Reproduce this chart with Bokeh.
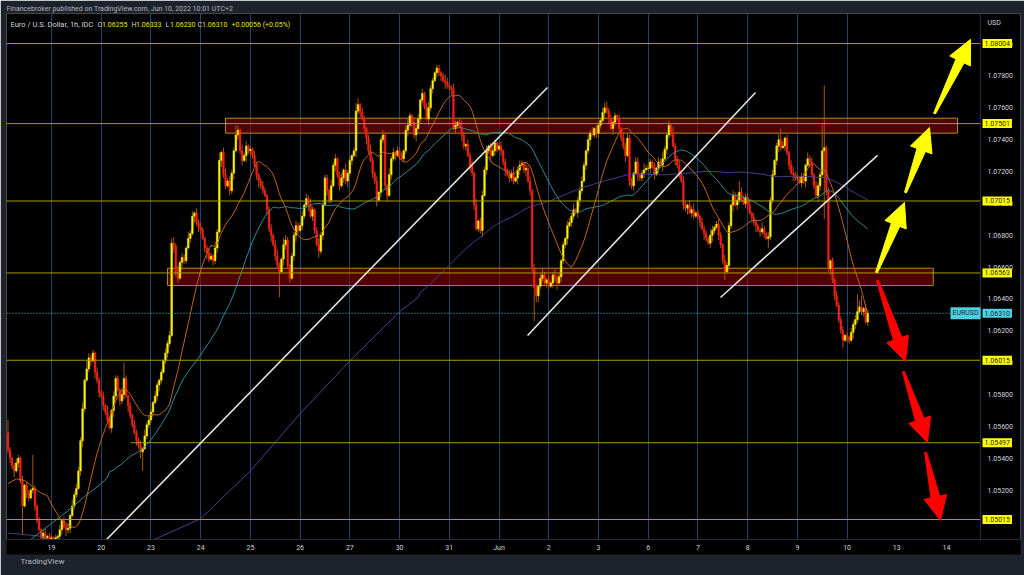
import math
import numpy as np
import pandas as pd
from bokeh.plotting import figure
from bokeh.models import (Range1d, LinearAxis, FixedTicker, Grid, Label, Span, Title, ColumnDataSource)
from bokeh.core.properties import value
from bokeh.embed import file_html
from bokeh.resources import INLINE

# ---------------- data (EUR/USD 1h, IDC) ----------------
FIRST_HOUR = -21          # hours relative to May 19 00:00 (trading hours only)
FIRST_OPEN = 1.0556

close_may18 = [1.0545,1.0540,1.0535,1.0532,1.0537,1.0540,1.0526,1.0510,1.0523,1.0518,1.0515,
               1.0520,1.0521,1.0510,1.0501,1.0495,1.0490,1.0493,1.0488,1.0491,1.0489]
close_may19 = [1.0490,1.0488,1.0490,1.0491,1.0495,1.0501,1.0497,1.0495,1.0496,1.0504,1.0510,1.0517,
               1.0521,1.0532,1.0551,1.0571,1.0589,1.0596,1.0603,1.0601,1.0606,1.0594,1.0589,1.0581]
close_may20 = [1.0579,1.0573,1.0569,1.0564,1.0559,1.0570,1.0579,1.0590,1.0583,1.0576,1.0580,1.0590,
               1.0579,1.0573,1.0567,1.0561,1.0556,1.0551,1.0548,1.0544,1.0546,1.0554,1.0561,1.0564]
close_may23 = [1.0569,1.0575,1.0579,1.0586,1.0589,1.0594,1.0601,1.0606,1.0612,1.0617,1.0675,1.0673,
               1.0656,1.0653,1.0663,1.0666,1.0664,1.0672,1.0678,1.0681,1.0692,1.0694,1.0688,1.0685]
close_may24 = [1.0683,1.0678,1.0672,1.0669,1.0665,1.0667,1.0664,1.0672,1.0682,1.0727,1.0732,1.0718,
               1.0711,1.0714,1.0708,1.0719,1.0733,1.0743,1.0746,1.0733,1.0727,1.0730,1.0736,1.0733]
close_may25 = [1.0734,1.0730,1.0724,1.0718,1.0714,1.0711,1.0708,1.0705,1.0696,1.0684,1.0680,1.0674,
               1.0667,1.0661,1.0657,1.0665,1.0674,1.0677,1.0661,1.0653,1.0667,1.0680,1.0686,1.0683]
close_may26 = [1.0686,1.0692,1.0699,1.0703,1.0699,1.0692,1.0696,1.0683,1.0674,1.0670,1.0680,1.0699,
               1.0716,1.0708,1.0702,1.0711,1.0724,1.0728,1.0718,1.0711,1.0716,1.0721,1.0714,1.0719]
close_may27 = [1.0727,1.0730,1.0733,1.0758,1.0762,1.0757,1.0753,1.0747,1.0741,1.0733,1.0727,1.0719,
               1.0714,1.0702,1.0707,1.0740,1.0743,1.0711,1.0705,1.0718,1.0728,1.0732,1.0730,1.0733]
close_may30 = [1.0730,1.0728,1.0733,1.0746,1.0749,1.0755,1.0751,1.0743,1.0747,1.0753,1.0765,1.0769,
               1.0761,1.0753,1.0760,1.0772,1.0777,1.0782,1.0785,1.0782,1.0780,1.0777,1.0776,1.0774]
close_may31 = [1.0773,1.0772,1.0747,1.0749,1.0751,1.0748,1.0743,1.0736,1.0737,1.0730,1.0724,1.0719,
               1.0699,1.0684,1.0689,1.0683,1.0705,1.0721,1.0733,1.0736,1.0730,1.0733,1.0738,1.0734]
close_jun01 = [1.0736,1.0733,1.0726,1.0721,1.0718,1.0716,1.0719,1.0714,1.0716,1.0721,1.0724,1.0725,
               1.0721,1.0722,1.0714,1.0708,1.0659,1.0647,1.0642,1.0648,1.0653,1.0655,1.0650,1.0652]
close_jun02 = [1.0648,1.0650,1.0655,1.0653,1.0650,1.0654,1.0664,1.0674,1.0678,1.0686,1.0688,1.0692,
               1.0696,1.0694,1.0702,1.0708,1.0714,1.0724,1.0733,1.0740,1.0744,1.0743,1.0747,1.0744]
close_jun03 = [1.0749,1.0752,1.0757,1.0760,1.0758,1.0753,1.0747,1.0751,1.0755,1.0753,1.0747,1.0741,
               1.0736,1.0730,1.0741,1.0714,1.0711,1.0719,1.0726,1.0718,1.0716,1.0719,1.0721,1.0722]
close_jun06 = [1.0722,1.0726,1.0724,1.0718,1.0722,1.0726,1.0724,1.0728,1.0734,1.0743,1.0749,1.0744,
               1.0736,1.0728,1.0724,1.0719,1.0714,1.0699,1.0697,1.0699,1.0694,1.0696,1.0692,1.0694]
close_jun07 = [1.0692,1.0688,1.0684,1.0681,1.0678,1.0675,1.0680,1.0683,1.0685,1.0687,1.0680,1.0674,
               1.0664,1.0657,1.0661,1.0686,1.0699,1.0705,1.0699,1.0702,1.0707,1.0703,1.0700,1.0704]
close_jun08 = [1.0699,1.0694,1.0691,1.0688,1.0686,1.0683,1.0682,1.0684,1.0681,1.0678,1.0679,1.0702,
               1.0718,1.0727,1.0736,1.0740,1.0735,1.0736,1.0741,1.0732,1.0724,1.0719,1.0718,1.0716]
close_jun09 = [1.0716,1.0713,1.0717,1.0714,1.0724,1.0728,1.0726,1.0718,1.0711,1.0705,1.0711,1.0718,
               1.0733,1.0735,1.0708,1.0659,1.0664,1.0652,1.0642,1.0636,1.0627,1.0620,1.0614,1.0617]
close_jun10 = [1.0616,1.0614,1.0619,1.0624,1.0627,1.0632,1.0635,1.0632,1.0634,1.06255,1.0631]

# wick lengths in pips (upper / lower), one digit per candle, one string per day
upper_wick_pips = ["421232131221321212312", "212131223142332415322132", "231421322143212132231423",
                   "213212132334251321423132", "321232142513423221314231", "213212321231342143212232",
                   "231324212413221423123142", "312241321242131232142313", "221342132313124221321243",
                   "213312421323141232312421", "231213241232142313213421", "312423121332412232132412",
                   "213242312131423221331242", "321213242131422313213241", "213221431232142213241322",
                   "231321242132312423121342", "312214231322431212132231", "21323142131"]
lower_wick_pips = ["232413221321232131223", "321223142312213421231423", "132213421323142213243122",
                   "231342123214231522131423", "213421323142213241323142", "321342213241322143231342",
                   "132241321423132214231324", "231423124213241322413231", "312241324132214231323142",
                   "241321423142312241324132", "132413221431241323142213", "213241322413213421324123",
                   "321423142132241323142231", "142313241322142313241321", "231421342132241324132213",
                   "312241323142213421323142", "213241322143213242312231", "32143212312"]

# notable long wicks (hour -> price)
high_override = {-21: 1.0564, -9: 1.0542, 20: 1.0608, 35: 1.0600, 89: 1.0749, 147: 1.0763,
                 186: 1.0787, 267: 1.0763, 298: 1.0752, 332: 1.0714, 352: 1.0747, 372: 1.0750,
                 373: 1.0774, 389: 1.0643, 391: 1.0642, 394: 1.06333}
low_override = {-14: 1.0492, 44: 1.0532, 110: 1.0641, 233: 1.0626, 234: 1.0638, 325: 1.0652,
                346: 1.0672, 373: 1.0690, 382: 1.0609, 394: 1.06230}

ma20_lead_t = [-21, -17, -13, -9, -5, -3]
ma20_lead_p = [1.0524, 1.0527, 1.0526, 1.0522, 1.0518, 1.0517]
ma50_lead_t = [-10, 0, 8, 16, 24, 27]
ma50_lead_p = [1.0489, 1.0499, 1.0507, 1.0516, 1.0524, 1.0528]
ma200_lead_t = [-21, -5, 10, 30, 48, 72, 96, 120, 144, 168, 177]
ma200_lead_p = [1.0493, 1.0491, 1.0484, 1.0484, 1.0488, 1.0502, 1.0532, 1.0568, 1.0601, 1.0632, 1.0641]

# axes
day_labels = ["19", "20", "23", "24", "25", "26", "27", "30", "31", "Jun",
              "2", "3", "6", "7", "8", "9", "10", "13", "14"]
grid_days = 17
price_ticks = [1.052, 1.054, 1.056, 1.058, 1.060, 1.062, 1.064, 1.066,
               1.068, 1.070, 1.072, 1.074, 1.076, 1.078, 1.080]

# drawings
levels = [1.08004, 1.07501, 1.07015, 1.06563, 1.06015, 1.05497, 1.05015]
level_start = [-30, -30, -30, -30, -30, 38.1, -30]
zone_left = [84.0, 56.0]
zone_right = [437.3, 425.6]
zone_top = [1.07535, 1.06593]
zone_bottom = [1.07441, 1.06484]
trend_t0 = [26.1, 229.8, 322.9]
trend_p0 = [1.04883, 1.06170, 1.06409]
trend_t1 = [239.4, 339.8, 398.7]
trend_p1 = [1.07728, 1.07696, 1.07301]
arrows_up = [(398.2, 1.06566, 411.7, 1.07006), (412.2, 1.07068, 423.8, 1.07477),
             (426.2, 1.07564, 443.6, 1.08030)]
arrows_down = [(398.7, 1.06516, 412.2, 1.06007), (411.2, 1.05944, 422.8, 1.05499),
               (421.9, 1.05436, 429.1, 1.05009)]
last_price = 1.06310
ohlc_text = [("O", "1.06255"), ("H", "1.06333"), ("L", "1.06230"), ("C", "1.06310")]
change_text = "+0.00056 (+0.05%)"

# ---------------- build series ----------------
closes = np.array(close_may18 + close_may19 + close_may20 + close_may23 + close_may24 +
                  close_may25 + close_may26 + close_may27 + close_may30 + close_may31 +
                  close_jun01 + close_jun02 + close_jun03 + close_jun06 + close_jun07 +
                  close_jun08 + close_jun09 + close_jun10)
uw = np.array([int(c) for c in "".join(upper_wick_pips)]) / 10000.0
lw = np.array([int(c) for c in "".join(lower_wick_pips)]) / 10000.0
if not (len(closes) == len(uw) == len(lw)):
    raise SystemExit("length mismatch %d %d %d" % (len(closes), len(uw), len(lw)))
n = len(closes)
hours = np.arange(n) + FIRST_HOUR
opens = np.concatenate([[FIRST_OPEN], closes[:-1]])
body_top = np.maximum(opens, closes)
body_bot = np.minimum(opens, closes)
highs = body_top + uw
lows = body_bot - lw
for h, v in high_override.items():
    highs[h - FIRST_HOUR] = max(v, body_top[h - FIRST_HOUR])
for h, v in low_override.items():
    lows[h - FIRST_HOUR] = min(v, body_bot[h - FIRST_HOUR])
colors = np.where(closes >= opens, "#f5f500", "#ff1a1a")

src = ColumnDataSource(dict(t=hours, top=body_top, bottom=body_bot, high=highs, low=lows, color=colors))

s = pd.Series(closes)
def ma_line(window, lead_t, lead_p):
    m = s.rolling(window).mean().values
    ok = ~np.isnan(m)
    return list(lead_t) + list(hours[ok]), list(lead_p) + list(m[ok])

# ---------------- figure ----------------
# frame spans the price pane and the price scale (x 6..1020, y 13..539)
X0, X_PANE_END, X1 = -21.72, 448.4, 467.71
Y0, Y1 = 1.048894, 1.081924
FRAME_W, FRAME_H = 1014, 526
KX = FRAME_W / (X1 - X0)
KY = FRAME_H / (Y1 - Y0)

p = figure(width=1024, height=575, x_range=Range1d(X0, X1), y_range=Range1d(Y0, Y1),
           x_axis_location=None, y_axis_location=None, toolbar_location=None,
           output_backend="svg", background_fill_color="#000000", border_fill_color="#1e222d",
           outline_line_color=None, min_border_left=6, min_border_right=4,
           min_border_top=13, min_border_bottom=36,
           title="Financebroker published on TradingView.com, Jun 10, 2022 10:01 UTC+2")
FONT = "Roboto"
p.title.text_font = FONT
p.title.text_font_size = "7px"
p.title.text_font_style = "normal"
p.title.text_color = "#b2b5be"
p.title.standoff = 1
p.title.offset = 0
p.grid.visible = False

xax = LinearAxis(ticker=FixedTicker(ticks=[24 * i for i in range(len(day_labels))]),
                 major_label_overrides={24 * i: lab for i, lab in enumerate(day_labels)})
xax.axis_line_color = "#2a2e39"
xax.major_tick_line_color = None
xax.minor_tick_line_color = None
xax.major_tick_out = 0
xax.major_tick_in = 0
xax.minor_tick_out = 0
xax.major_label_text_color = "#d1d4dc"
xax.major_label_text_font_size = "7px"
xax.major_label_text_font = FONT
xax.major_label_standoff = 4
if hasattr(xax, "background_fill_color"):
    xax.background_fill_color = "#000000"
p.add_layout(xax, "below")
p.add_layout(Title(text="TradingView", align="left", text_font=FONT, text_font_size="8px",
                   text_font_style="normal", text_color="#b2b5be", offset=14, standoff=0), "below")

p.add_layout(Grid(dimension=0, ticker=FixedTicker(ticks=[24 * i for i in range(grid_days)]),
                  grid_line_color="#23426b", grid_line_width=1))
# separator between price pane and price scale
p.add_layout(Span(location=X_PANE_END, dimension="height", line_color="#2a2e39", line_width=1))

# zones
p.quad(left=zone_left, right=zone_right, top=zone_top, bottom=zone_bottom,
       fill_color="#a00000", fill_alpha=0.5, line_color="#a8901c", line_width=1)

# candles
p.segment(x0="t", y0="low", x1="t", y1="high", source=src, line_color="#a8560f", line_width=1)
p.vbar(x="t", width=0.8, top="top", bottom="bottom", source=src,
       fill_color="color", line_color="color", line_width=0.5)

# moving averages
for (w, lt, lp, col) in [(200, ma200_lead_t, ma200_lead_p, "#4e3d8f"),
                         (50, ma50_lead_t, ma50_lead_p, "#2f8c9a"),
                         (20, ma20_lead_t, ma20_lead_p, "#c0651a")]:
    xs, ys = ma_line(w, lt, lp)
    p.line(xs, ys, line_color=col, line_width=1)

# horizontal levels
p.segment(x0=level_start, y0=levels, x1=[X_PANE_END] * len(levels), y1=levels,
          line_color="#a89f00", line_width=1)

# trend lines
p.segment(x0=trend_t0, y0=trend_p0, x1=trend_t1, y1=trend_p1, line_color="#e4e4e4", line_width=1.6)

# current price line
p.segment(x0=[X0], y0=[last_price], x1=[X_PANE_END], y1=[last_price], line_color="#4dd0e1",
          line_dash="1 2", line_width=1)

# arrows
def arrow_poly(t0, p0, t1, p1, hw=11.5, hl=24.0, w0=1.0, w1=4.5):
    ax_, ay_ = t0 * KX, p0 * KY
    bx, by = t1 * KX, p1 * KY
    dx, dy = bx - ax_, by - ay_
    L = math.hypot(dx, dy)
    ux, uy = dx / L, dy / L
    nx, ny = -uy, ux
    cx, cy = bx - ux * hl, by - uy * hl
    pts = [(ax_ + nx * w0, ay_ + ny * w0), (cx + nx * w1, cy + ny * w1), (cx + nx * hw, cy + ny * hw),
           (bx, by), (cx - nx * hw, cy - ny * hw), (cx - nx * w1, cy - ny * w1),
           (ax_ - nx * w0, ay_ - ny * w0)]
    return [q[0] / KX for q in pts], [q[1] / KY for q in pts]

for group, col in ((arrows_up, "#ffff00"), (arrows_down, "#ff0000")):
    xs_all, ys_all = [], []
    for a in group:
        xs, ys = arrow_poly(*a)
        xs_all.append(xs)
        ys_all.append(ys)
    p.patches(xs_all, ys_all, fill_color=col, line_color=col, line_width=1)

# ---------------- texts ----------------
def t_of(px):
    return X0 + (px - 6) / KX

def price_of(py):
    return Y1 - (py - 13) / KY

# price scale labels
p.text(x=[t_of(987)] * len(price_ticks), y=price_ticks, text=["%.5f" % v for v in price_ticks],
       text_font=value(FONT), text_font_size=value("7px"), text_color="#d1d4dc",
       text_baseline="middle", text_align="left")

def lab(x, y, text, color, size="7px", bg=None):
    kw = dict(x=x, y=y, text=text, text_font=FONT, text_font_size=size,
              text_color=color, text_baseline="middle", text_align="left")
    if bg is not None:
        kw["background_fill_color"] = bg
    l = Label(**kw)
    if bg is not None and hasattr(l, "padding"):
        l.padding = 2
    p.add_layout(l)

ly = price_of(24)
lab(t_of(10), ly, "Euro / U.S. Dollar, 1h, IDC", "#d1d4dc", size="7.5px")
for i, (k, v) in enumerate(ohlc_text):
    x0 = [97, 131, 165, 197][i]
    lab(t_of(x0), ly, k, "#d1d4dc")
    lab(t_of(x0 + 4.5), ly, v, "#e8e800")
lab(t_of(231), ly, change_text, "#e8e800")

lab(t_of(987), price_of(22), "USD", "#d1d4dc")
for lv in levels:
    lab(t_of(982), lv, "%.5f" % lv, "#1e1e1e", bg="#ffff00")
lab(t_of(950), last_price, "EURUSD", "#1e2a33", bg="#4dd0e1")
lab(t_of(982), last_price, "%.5f" % last_price, "#1e2a33", bg="#4dd0e1")

open("out.html", "w").write(file_html(p, INLINE))
